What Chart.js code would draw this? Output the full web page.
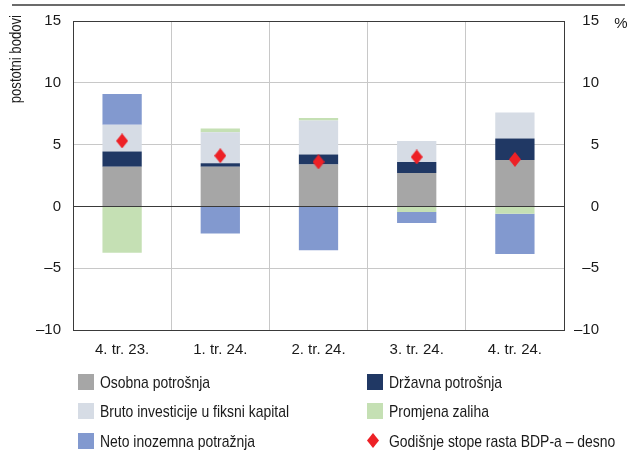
<!DOCTYPE html>
<html>
<head>
<meta charset="utf-8">
<script src="https://cdn.jsdelivr.net/npm/chart.js@4"></script>
<style>
  body { margin: 0; background: #fff; }
  #wrap { width: 628px; height: 453px; position: relative; }
</style>
</head>
<body>
<div id="wrap"><canvas id="chart"></canvas></div>
<script>
// Podaci očitani s grafikona
const categories = ["4. tr. 23.", "1. tr. 24.", "2. tr. 24.", "3. tr. 24.", "4. tr. 24."];
const osobnaPotrosnja = [3.2, 3.2, 3.4, 2.7, 3.75];
const drzavnaPotrosnja = [1.25, 0.3, 0.8, 0.9, 1.75];
const brutoInvesticije = [2.15, 2.5, 2.75, 1.7, 2.1];
const promjenaZaliha = [-3.75, 0.3, 0.2, -0.45, -0.6];
const netoInozemna = [2.5, -2.2, -3.55, -0.9, -3.25];
const stopaBDP = [5.3, 4.1, 3.6, 4.0, 3.8];
const yTicks = [-10, -5, 0, 5, 10, 15];

const FONT = "'Liberation Sans', Arial, sans-serif";
const DARK = "#3a3a3a";
const GRID = "#c8c8c8";
const RED = "#ed2126";
const TXT = "#1a1a1a";
const NARROW = 0.82; // uži font kao u originalu

// mali romb za točke
function makeDiamond(w, h) {
  const c = document.createElement("canvas");
  c.width = w; c.height = h;
  const g = c.getContext("2d");
  g.fillStyle = RED;
  g.beginPath();
  g.moveTo(w / 2, 0);
  g.lineTo(w, h / 2);
  g.lineTo(w / 2, h);
  g.lineTo(0, h / 2);
  g.closePath();
  g.fill();
  return c;
}
const diamond = makeDiamond(12, 15);

function narrowText(ctx, text, x, y) {
  const w = ctx.measureText(text).width * NARROW;
  ctx.fillText(text, x, y, w);
}

const extras = {
  id: "extras",
  beforeDraw(chart) {
    const ctx = chart.ctx;
    ctx.save();
    ctx.strokeStyle = "#6b6b6b";
    ctx.lineWidth = 2;
    ctx.beginPath();
    ctx.moveTo(12, 5);
    ctx.lineTo(625, 5);
    ctx.stroke();
    ctx.restore();
  },
  afterDatasetsDraw(chart) {
    // nulta linija preko stupaca
    const ctx = chart.ctx;
    const a = chart.chartArea;
    const y0 = Math.round(chart.scales.y.getPixelForValue(0)) + 0.5;
    ctx.save();
    ctx.strokeStyle = DARK;
    ctx.lineWidth = 1;
    ctx.beginPath();
    ctx.moveTo(a.left, y0);
    ctx.lineTo(a.right, y0);
    ctx.stroke();
    const meta = chart.getDatasetMeta(5);
    meta.data.forEach(p => {
      ctx.drawImage(diamond, p.x - diamond.width / 2, p.y - diamond.height / 2);
    });
    ctx.restore();
  },
  afterDraw(chart) {
    const ctx = chart.ctx;
    ctx.save();
    ctx.fillStyle = TXT;
    ctx.font = "16px " + FONT;
    // naslov lijeve osi
    ctx.translate(17, 15);
    ctx.rotate(-Math.PI / 2);
    ctx.textAlign = "right";
    ctx.textBaseline = "middle";
    narrowText(ctx, "postotni bodovi", 0, 0);
    ctx.restore();

    ctx.save();
    ctx.fillStyle = TXT;
    ctx.font = "15px " + FONT;
    ctx.textAlign = "center";
    ctx.textBaseline = "middle";
    ctx.fillText("%", 621, 24);

    // legenda u dva stupca
    const colX = [78, 367];
    const rowY = [382, 411, 441];
    ctx.font = "17px " + FONT;
    ctx.textAlign = "left";
    chart.data.datasets.forEach((ds, i) => {
      const x = colX[i % 2];
      const y = rowY[Math.floor(i / 2)];
      if (ds.type === "line") {
        ctx.drawImage(diamond, x, y - 8);
      } else {
        ctx.fillStyle = ds.backgroundColor;
        ctx.fillRect(x, y - 8, 16, 16);
      }
      ctx.fillStyle = TXT;
      narrowText(ctx, ds.label, x + 22, y + 1);
    });
    ctx.restore();
  }
};

const minus = v => (v < 0 ? "\u2013" + Math.abs(v) : String(v));

new Chart(document.getElementById("chart"), {
  type: "bar",
  data: {
    labels: categories,
    datasets: [
      { label: "Osobna potrošnja", data: osobnaPotrosnja, backgroundColor: "#a6a6a6" },
      { label: "Državna potrošnja", data: drzavnaPotrosnja, backgroundColor: "#203864" },
      { label: "Bruto investicije u fiksni kapital", data: brutoInvesticije, backgroundColor: "#d6dce5" },
      { label: "Promjena zaliha", data: promjenaZaliha, backgroundColor: "#c5e0b4" },
      { label: "Neto inozemna potražnja", data: netoInozemna, backgroundColor: "#8299cf" },
      {
        type: "line", label: "Godišnje stope rasta BDP-a – desno", data: stopaBDP,
        yAxisID: "y1", showLine: false, pointRadius: 0, pointHoverRadius: 0,
        backgroundColor: RED, borderColor: RED
      }
    ]
  },
  options: {
    responsive: true,
    maintainAspectRatio: false,
    animation: false,
    datasets: { bar: { barPercentage: 1, categoryPercentage: 0.4 } },
    layout: { padding: { top: 20, left: 0, right: 29, bottom: 0 } },
    plugins: { legend: { display: false }, tooltip: { enabled: false } },
    scales: {
      x: {
        stacked: true,
        offset: true,
        afterFit: s => { s.height = 123; },
        grid: {
          offset: true, drawTicks: false,
          color: c => (c.index === 0 || c.index === categories.length ? DARK : GRID)
        },
        border: { display: true, color: DARK, width: 1 },
        ticks: { color: TXT, padding: 11, font: { family: FONT, size: 15 } }
      },
      y: {
        stacked: true,
        min: -10, max: 15,
        afterBuildTicks: s => { s.ticks = yTicks.map(v => ({ value: v })); },
        afterFit: s => { s.width = 73; },
        grid: {
          drawTicks: false,
          color: c => (c.tick.value === 15 || c.tick.value === -10 || c.tick.value === 0 ? DARK : GRID)
        },
        border: { display: true, color: DARK, width: 1 },
        ticks: { color: TXT, padding: 12, font: { family: FONT, size: 15 }, callback: minus }
      },
      y1: {
        position: "right",
        min: -10, max: 15,
        afterBuildTicks: s => { s.ticks = yTicks.map(v => ({ value: v })); },
        afterFit: s => { s.width = 35; },
        grid: { display: false, drawTicks: false },
        border: { display: true, color: DARK, width: 1 },
        ticks: { color: TXT, padding: 8, crossAlign: "far", font: { family: FONT, size: 15 }, callback: minus }
      }
    }
  },
  plugins: [extras]
});
</script>
</body>
</html>
